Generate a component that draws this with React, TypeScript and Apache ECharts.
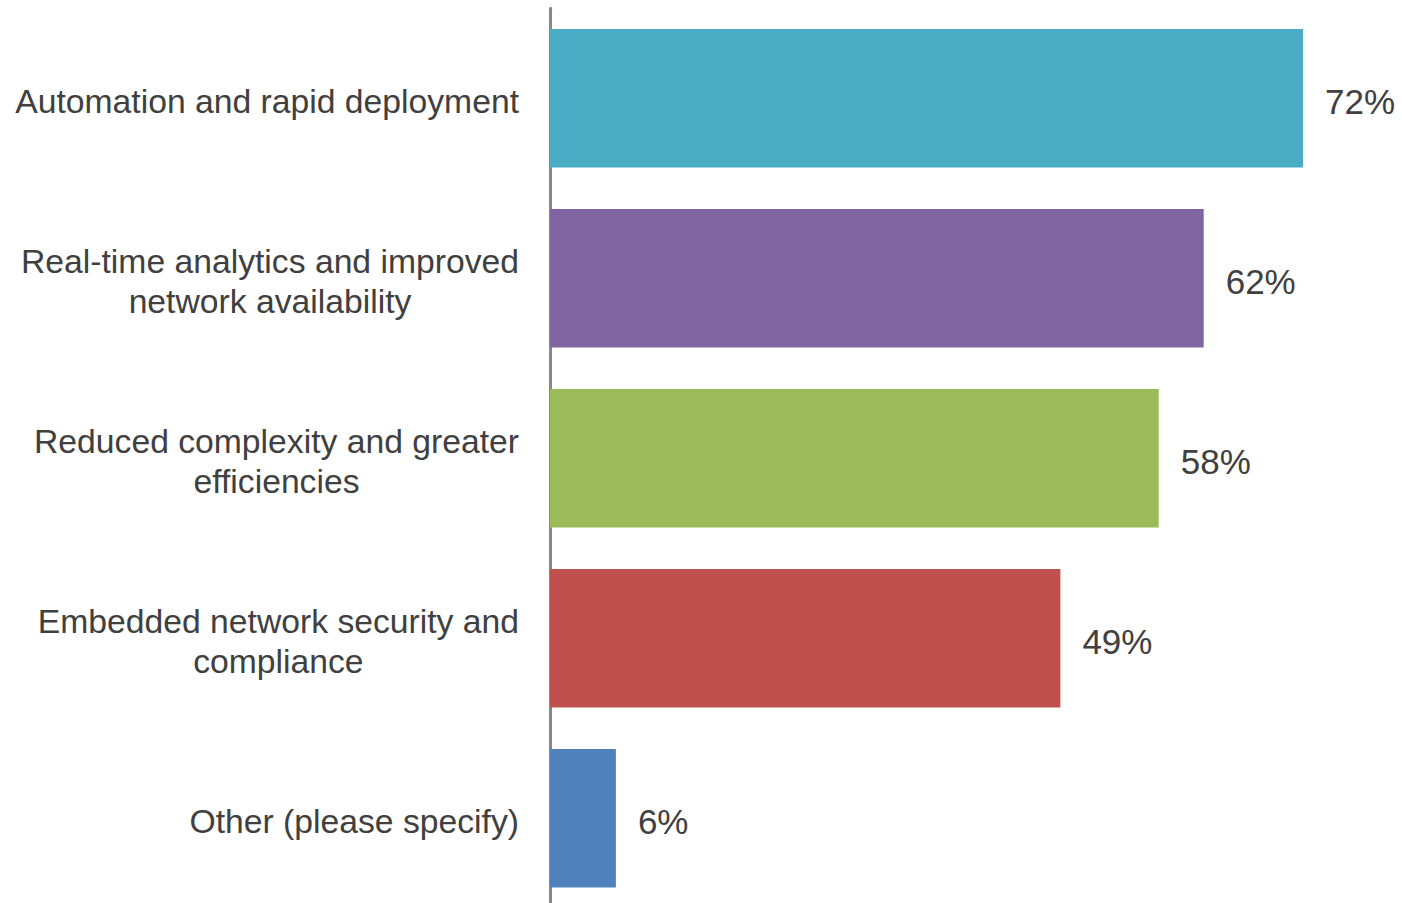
import React, { useEffect, useRef } from "react";
import * as echarts from "echarts";

const categories: string[] = [
  "Automation and rapid deployment",
  "Real-time analytics and improved\nnetwork availability",
  "Reduced complexity and greater\nefficiencies",
  "Embedded network security and\ncompliance",
  "Other (please specify)",
];
const values: number[] = [72, 62.5, 58.2, 48.8, 6.3];
const valueLabels: string[] = ["72%", "62%", "58%", "49%", "6%"];
const colors: string[] = ["#4BACC6", "#8064A2", "#9BBB59", "#C0504D", "#4F81BD"];

const FONT = "Liberation Sans, Arial, Helvetica, sans-serif";
const TEXT = "#404040";

export default function App() {
  const ref = useRef<HTMLDivElement>(null);
  useEffect(() => {
    if (!ref.current) return;
    const chart = echarts.init(ref.current, undefined, { renderer: "svg" });
    chart.setOption({
      animation: false,
      backgroundColor: "#ffffff",
      grid: {
        left: 550,
        right: 15.3,
        top: 8.3,
        height: 900,
        containLabel: false,
        outerBoundsMode: "none",
      },
      xAxis: {
        type: "value",
        min: 0,
        max: 80,
        show: false,
        splitLine: { show: false },
      },
      yAxis: {
        type: "category",
        inverse: true,
        offset: 1.5,
        data: categories,
        axisLine: { show: true, lineStyle: { color: "#888888", width: 3 } },
        axisTick: { show: false },
        splitLine: { show: false },
        axisLabel: {
          margin: 29.5,
          align: "right",
          fontFamily: FONT,
          fontSize: 33.7,
          color: TEXT,
          lineHeight: 40,
          padding: [6, 0, 0, 0],
          formatter: (v: string) =>
            v
              .split("\n")
              .map((l) => `{c|${l}}`)
              .join("\n"),
          rich: {
            c: {
              align: "center",
              fontFamily: FONT,
              fontSize: 33.7,
              color: TEXT,
              lineHeight: 40,
            },
          },
        },
      },
      series: [
        {
          type: "bar",
          barCategoryGap: "23%",
          data: values.map((v, i) => ({
            value: v,
            itemStyle: { color: colors[i] },
            label: { formatter: valueLabels[i] },
          })),
          label: {
            show: true,
            position: "right",
            distance: 22,
            offset: [0, 3],
            fontFamily: FONT,
            fontSize: 35,
            color: TEXT,
          },
        },
      ],
    });
    return () => chart.dispose();
  }, []);
  return (
    <div
      ref={ref}
      style={{ position: "fixed", left: 0, top: 0, width: 1402, height: 903, background: "#fff" }}
    />
  );
}
